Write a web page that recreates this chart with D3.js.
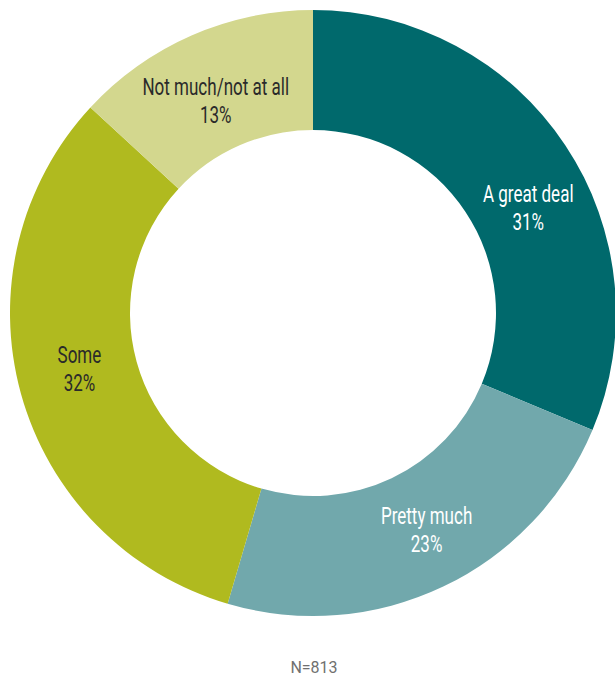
<!DOCTYPE html>
<html>
<head>
<meta charset="utf-8">
<script src="https://cdn.jsdelivr.net/npm/d3@7"></script>
<style>
  html, body { margin: 0; padding: 0; background: #ffffff; }
  svg { display: block; }
  .slice-label text { font-family: Roboto, "Noto Sans", sans-serif; font-size: 23px; }
  .note { font-family: Roboto, "Noto Sans", sans-serif; font-size: 16px; fill: #707070; }
</style>
</head>
<body>
<svg id="chart" width="615" height="679"></svg>
<script>
// Responses, clockwise from 12 o'clock
const categories = ["A great deal", "Pretty much", "Some", "Not much/not at all"];
const shares = [31, 23, 32, 13];
const sampleNote = "N=813";

const colors = ["#00696c", "#71a8ac", "#b0ba1f", "#d3d78e"];
const textColors = ["#ffffff", "#ffffff", "#2a2a2a", "#2a2a2a"];
// label placement inside each ring segment: angular nudge (radians) and radius
const labelNudge = [0.129, -0.04, 0.038, -0.016];
const labelRadius = [240, 244, 240, 234];

const width = 615, height = 679;
const cx = 313, cy = 313;
const outerR = 303, innerR = 183;
const condense = 0.74; // horizontal squeeze for the condensed label face

const svg = d3.select("#chart");
const g = svg.append("g").attr("transform", `translate(${cx},${cy})`);

const data = categories.map((c, i) => ({ category: c, value: shares[i], i }));

const pie = d3.pie().value(d => d.value).sort(null);
const arc = d3.arc().innerRadius(innerR).outerRadius(outerR);

const arcs = pie(data);

g.selectAll("path.slice")
  .data(arcs)
  .join("path")
  .attr("class", "slice")
  .attr("d", arc)
  .attr("fill", d => colors[d.data.i]);

const labels = g.selectAll("g.slice-label")
  .data(arcs)
  .join("g")
  .attr("class", "slice-label")
  .attr("transform", d => {
    const a = (d.startAngle + d.endAngle) / 2 + labelNudge[d.data.i];
    const r = labelRadius[d.data.i];
    return `translate(${r * Math.sin(a)},${-r * Math.cos(a)}) scale(${condense},1)`;
  })
  .attr("fill", d => textColors[d.data.i]);

labels.append("text")
  .attr("text-anchor", "middle")
  .attr("y", -5)
  .text(d => d.data.category);

labels.append("text")
  .attr("text-anchor", "middle")
  .attr("y", 23)
  .text(d => d.data.value + "%");

svg.append("text")
  .attr("class", "note")
  .attr("x", 314)
  .attr("y", 673)
  .attr("text-anchor", "middle")
  .text(sampleNote);
</script>
</body>
</html>
